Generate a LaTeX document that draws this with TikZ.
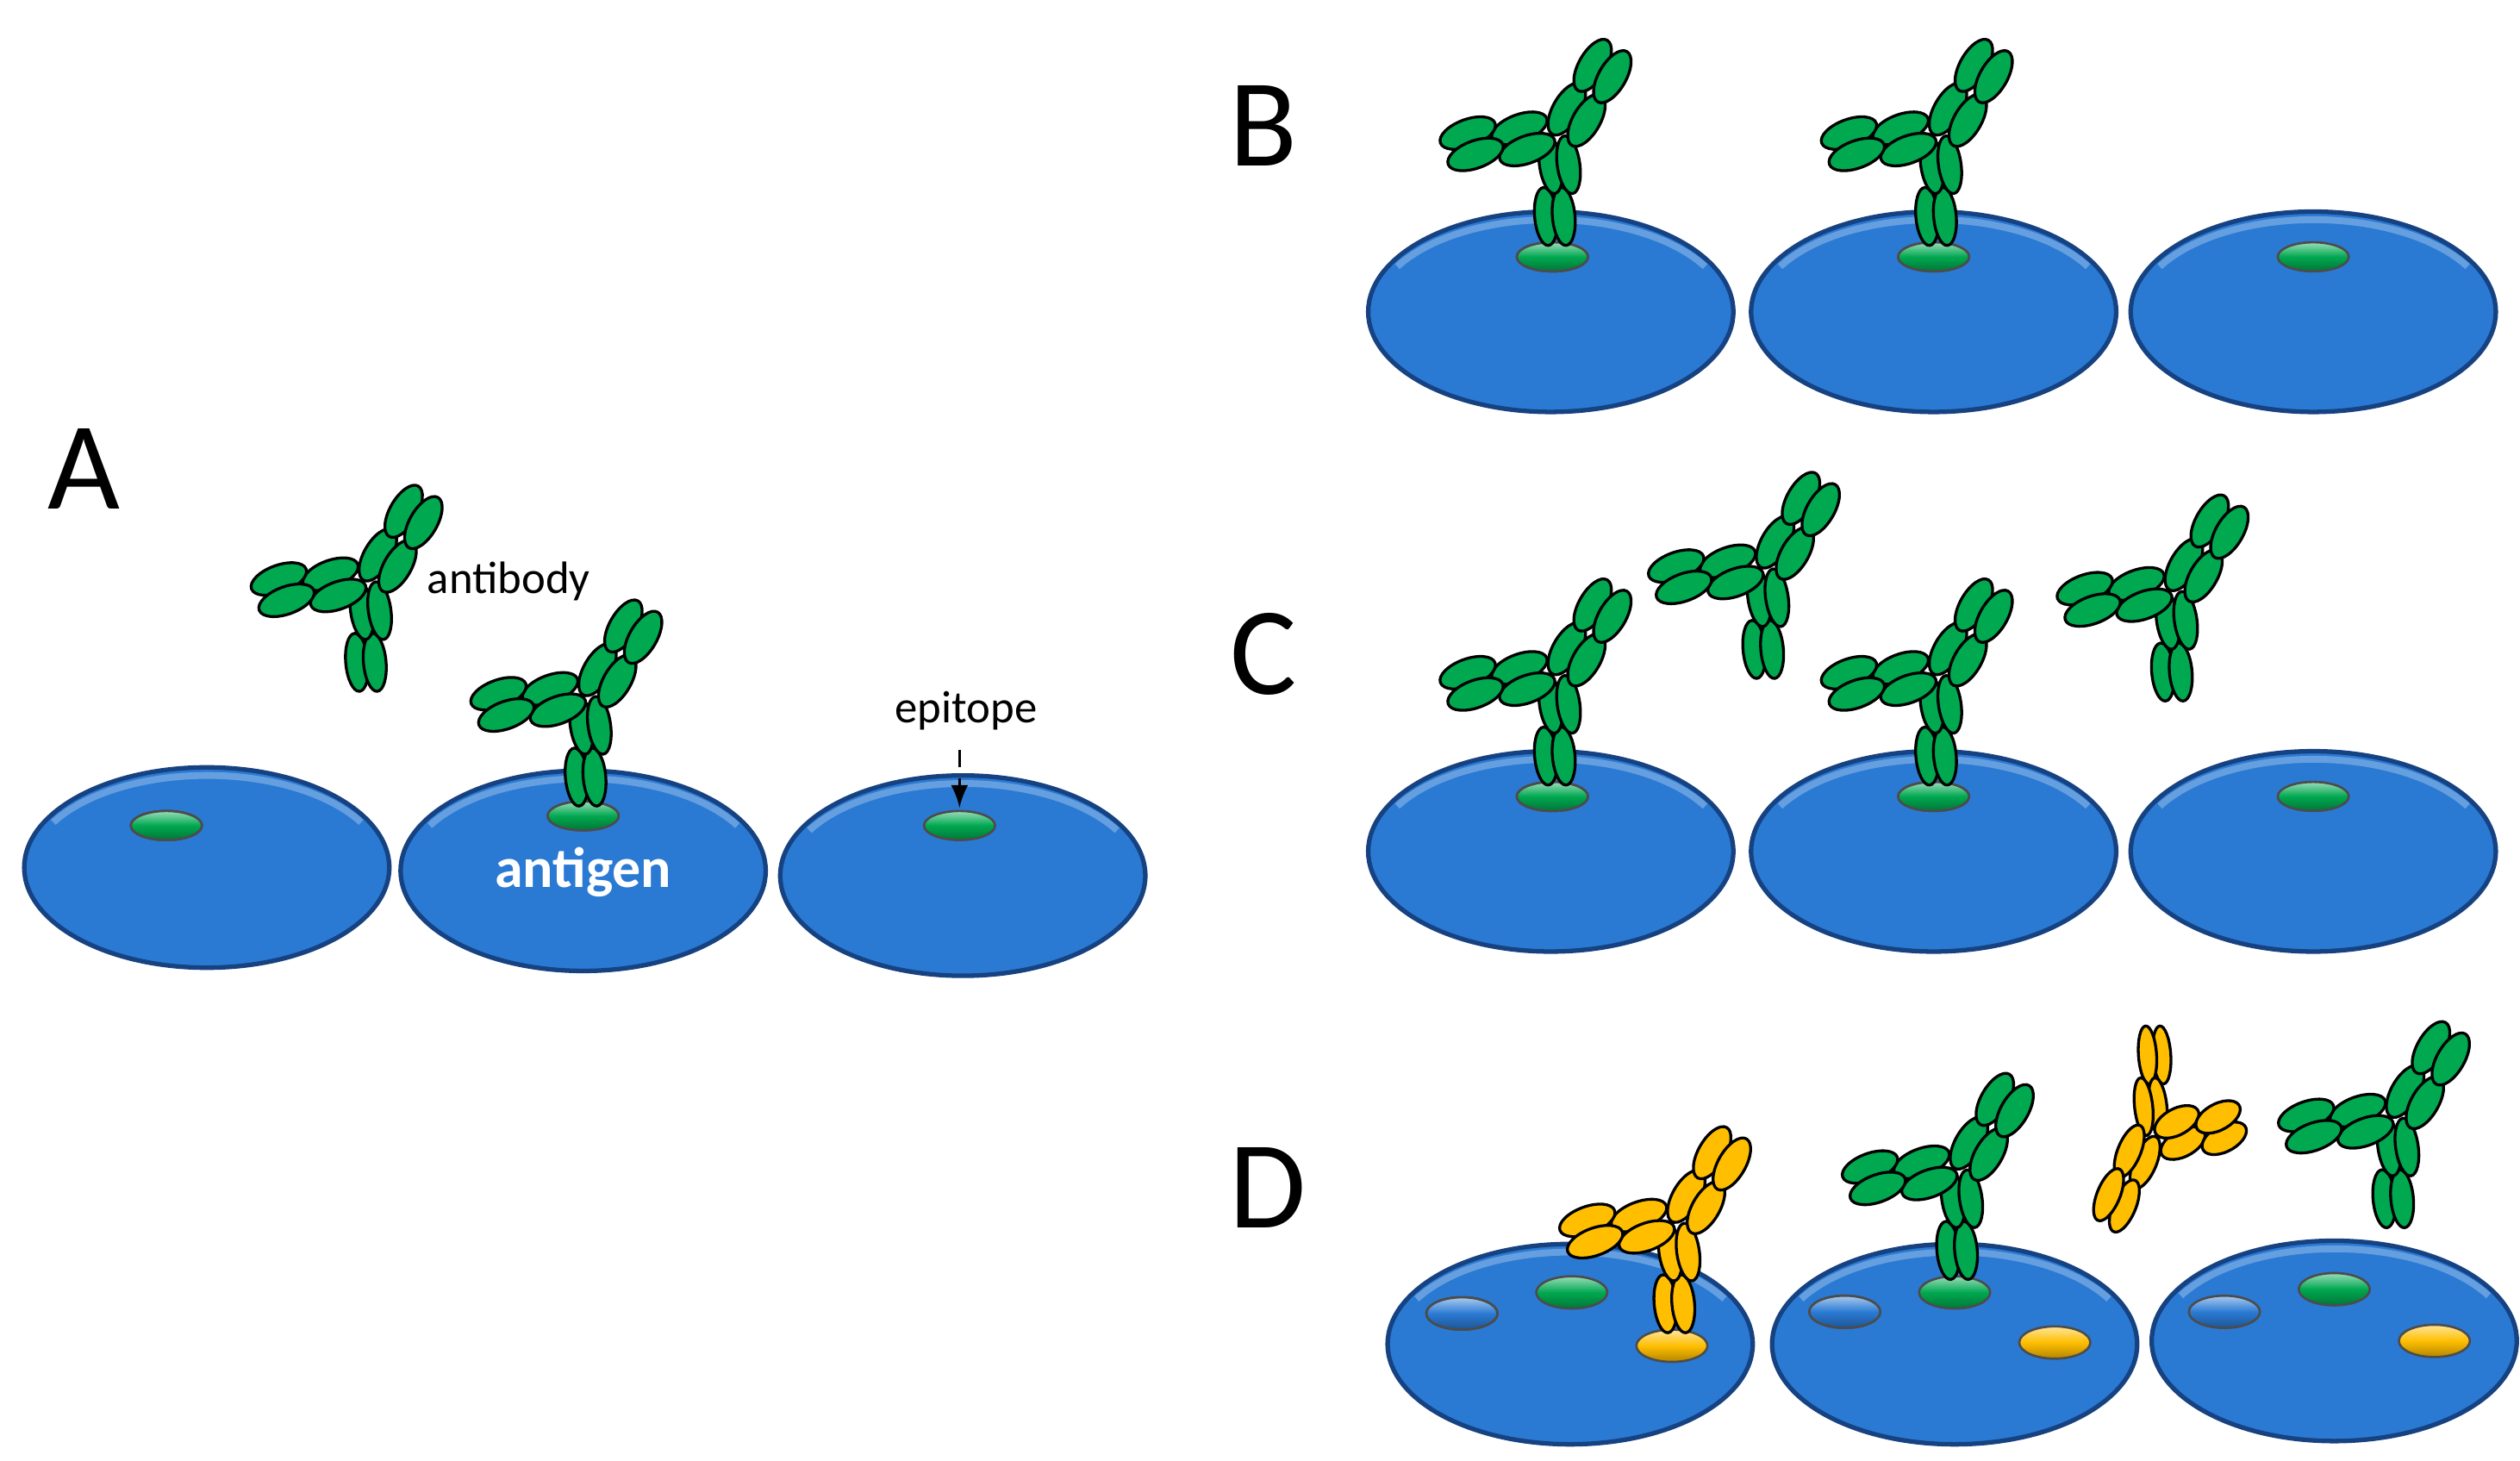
\documentclass[tikz,border=0pt]{standalone}
\usepackage{fontspec}
\setmainfont{Carlito}
\definecolor{cellblue}{RGB}{42,122,212}
\definecolor{celledge}{RGB}{22,66,130}
\definecolor{abgreen}{RGB}{0,168,80}
\definecolor{abyellow}{RGB}{255,190,0}
\tikzset{
  cell/.style={fill=cellblue,draw=celledge,line width=0.8pt},
  spot/.style={draw=black!70,line width=0.4pt,top color=#1!40!white,bottom color=#1!70!black,middle color=#1},
  letter/.style={font=\fontsize{22}{26}\selectfont},
  lbl/.style={font=\fontsize{8}{10}\selectfont}
}
% antibody: base of the stem at #1, colour #2, extra transform #3
\newcommand{\antibody}[3]{%
  \begin{scope}[shift={#1},#3,every path/.style={draw=black,line width=0.5pt,fill=#2}]
    \foreach \cx/\cy/\ang in {-4/18/95, 7/18/95, -1/50/98, 10/50/98}
      \draw[shift={(\cx,\cy)},rotate=\ang] (0,0) ellipse (18 and 7);
    \foreach \cx/\cy in {8.9/84.5, 21.1/77.5, 24.9/111.5, 37.1/104.5}
      \draw[shift={(\cx,\cy)},rotate=60] (0,0) ellipse (18 and 8.5);
    \foreach \cx/\cy in {-20.4/72.6, -15.6/59.4, -52.4/69.6, -47.6/56.4}
      \draw[shift={(\cx,\cy)},rotate=20] (0,0) ellipse (18 and 8.5);
  \end{scope}}
\newcommand{\cellat}[1]{\draw[cell] #1 ellipse (113 and 62);
  \draw[white!70!cellblue,line width=1.2pt,opacity=0.4] ($#1+(-95,28)$) arc[start angle=150,end angle=30,x radius=110,y radius=58];}
\usetikzlibrary{calc}
\begin{document}
\begin{tikzpicture}[x=0.01cm,y=0.01cm]
\useasboundingbox (0,0) rectangle (1560,904);
% panel A
\node[letter] (la) at (52,614) {A};
\foreach \x/\y in {128/367, 361/365, 596/362} \cellat{(\x,\y)}
\foreach \x/\y in {103/393, 361/399, 594/393}
  \draw[spot=abgreen] (\x,\y) ellipse (22 and 9);
\antibody{(361,405)}{abgreen}{}
\antibody{(225,476)}{abgreen}{}
\node[lbl] (ab) at (315,544) {antibody};
\node[font=\fontsize{10}{12}\selectfont\bfseries,text=white] (ag) at (361,364) {antigen};
\node[lbl] (ep) at (598,464) {epitope};
\draw[densely dashed,-latex,line width=0.4pt] (ep.south -| 594,0) -- (594,404);
% panel B
\node[letter] (lb) at (782,826) {B};
\foreach \x in {960,1197,1432} \cellat{(\x,711)}
\foreach \x in {961,1197,1432}
  \draw[spot=abgreen] (\x,745) ellipse (22 and 9);
\antibody{(961,752)}{abgreen}{}
\antibody{(1197,752)}{abgreen}{}
% panel C
\node[letter] (lc) at (782,499) {C};
\foreach \x in {960,1197,1432} \cellat{(\x,377)}
\foreach \x in {961,1197,1432}
  \draw[spot=abgreen] (\x,411) ellipse (22 and 9);
\antibody{(961,418)}{abgreen}{}
\antibody{(1197,418)}{abgreen}{}
\antibody{(1090,484)}{abgreen}{}
\antibody{(1343,470)}{abgreen}{}
% panel D
\node[letter] (ld) at (785,169) {D};
\foreach \x/\y in {972/72, 1210/72, 1445/74} \cellat{(\x,\y)}
\foreach \x/\y in {905/91, 1142/92, 1377/92}
  \draw[spot=cellblue] (\x,\y) ellipse (22 and 10);
\foreach \x/\y in {973/104, 1210/104, 1445/106}
  \draw[spot=abgreen] (\x,\y) ellipse (22 and 10);
\foreach \x/\y in {1035/71, 1272/73, 1507/74}
  \draw[spot=abyellow] (\x,\y) ellipse (22 and 10);
\antibody{(1035,79)}{abyellow}{}
\antibody{(1210,112)}{abgreen}{}
\antibody{(1335,269)}{abyellow}{rotate=180,xscale=0.8}
\antibody{(1480,144)}{abgreen}{}
\end{tikzpicture}
\end{document}
